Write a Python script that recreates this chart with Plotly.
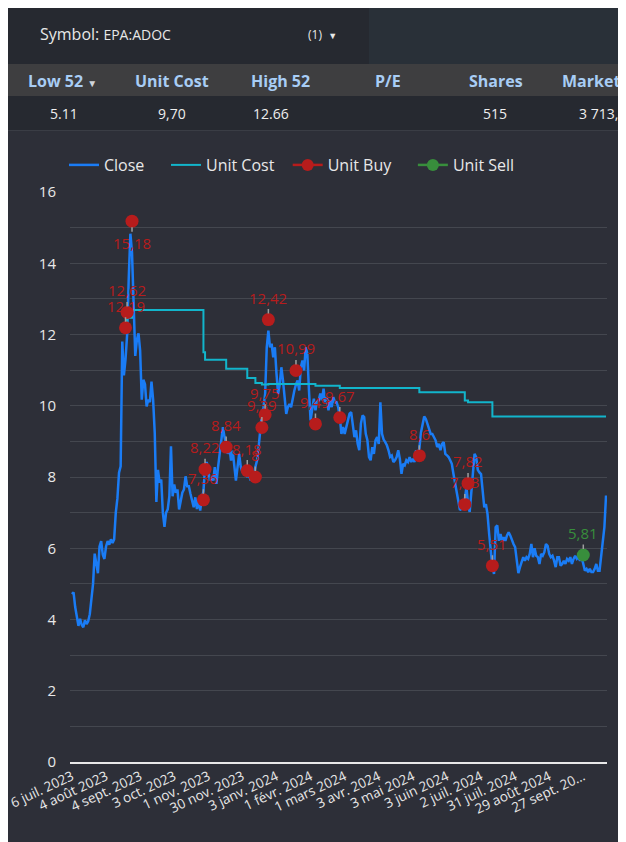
import plotly.graph_objects as go
import pandas as pd

# Euronext Paris closing days in the period
holidays = ['2023-12-25', '2023-12-26', '2024-01-01', '2024-03-29', '2024-04-01', '2024-05-01']
days = pd.bdate_range('2023-07-06', periods=330, freq='C', holidays=holidays)
dates = days.strftime('%Y-%m-%d').tolist()

close = [
    4.71, 4.76, 4.35, 4.05, 3.82, 4.02, 3.85, 3.78, 3.98, 3.87,
    3.95, 4.15, 4.55, 5.0, 5.85, 5.55, 5.3, 6.05, 6.2, 5.82,
    5.7, 6.05, 6.2, 6.1, 6.25, 6.15, 6.25, 7.0, 7.4, 8.12,
    8.3, 11.8, 10.85, 11.3, 12.0, 13.6, 14.83, 14.3, 12.9, 11.4,
    11.85, 12.03, 11.55, 10.17, 10.73, 10.6, 9.98, 10.17, 10.1, 10.68,
    10.17, 9.24, 7.3, 8.2, 7.84, 7.93, 7.0, 6.6, 7.0, 7.09,
    7.46, 8.86, 7.46, 7.79, 7.56, 7.65, 7.09, 7.37, 7.56, 7.65,
    8.02, 7.74, 7.74, 7.53, 7.3, 7.15, 7.43, 7.1, 7.34, 7.06,
    7.4, 7.6, 8.28, 8.42, 8.18, 7.9, 8.0, 7.9, 8.28, 7.81,
    8.28, 8.65, 9.02, 9.4, 9.12, 8.84, 8.65, 8.84, 8.46, 8.74,
    8.28, 7.9, 8.28, 8.65, 8.28, 8.14, 8.28, 8.14, 8.0, 8.09,
    7.9, 8.09, 8.0, 8.28, 8.46, 8.84, 9.4, 9.77, 9.96, 10.33,
    11.64, 12.11, 11.64, 11.74, 11.36, 11.64, 10.9, 10.33, 10.6, 11.08,
    10.71, 10.24, 9.77, 9.96, 10.05, 9.96, 10.24, 10.43, 10.6, 10.71,
    10.43, 11.08, 11.27, 10.99, 11.64, 11.46, 10.43, 9.59, 9.9, 10.2,
    9.87, 10.1, 10.15, 10.34, 10.15, 10.48, 10.1, 10.24, 9.87, 10.15,
    9.96, 10.24, 10.1, 10.1, 9.96, 9.68, 9.21, 9.4, 9.21, 9.4,
    9.68, 9.78, 9.82, 9.4, 9.12, 9.31, 8.93, 8.75, 9.5, 9.73,
    9.68, 9.21, 9.03, 8.56, 8.47, 8.84, 8.65, 9.03, 9.12, 8.93,
    10.1, 9.21, 9.05, 8.98, 8.89, 8.75, 8.56, 8.6, 8.42, 8.47,
    8.56, 8.75, 8.51, 8.09, 8.37, 8.33, 8.47, 8.42, 8.56, 8.42,
    8.51, 8.42, 8.75, 8.6, 8.8, 9.25, 9.45, 9.7, 9.63, 9.5,
    9.31, 9.21, 9.21, 9.12, 9.03, 8.84, 8.93, 8.75, 8.93, 8.98,
    8.65, 8.61, 8.56, 8.47, 8.37, 8.09, 7.81, 7.53, 7.25, 7.07,
    7.11, 7.21, 7.35, 7.72, 7.25, 7.02, 7.65, 8.3, 8.65, 8.56,
    8.2, 8.13, 8.08, 7.62, 7.15, 7.24, 6.96, 6.4, 5.84, 5.47,
    5.28, 6.59, 6.64, 6.21, 6.4, 6.21, 6.31, 6.21, 6.36, 6.45,
    6.36, 6.21, 6.12, 6.03, 5.65, 5.3, 5.47, 5.61, 5.75, 5.65,
    5.75, 5.7, 5.84, 6.12, 5.75, 6.0, 5.79, 5.75, 5.56, 5.84,
    5.79, 5.89, 6.12, 6.07, 5.84, 5.75, 5.79, 5.65, 5.47, 5.75,
    5.75, 5.51, 5.56, 5.65, 5.56, 5.7, 5.65, 5.75, 5.56, 5.7,
    5.79, 5.7, 5.75, 5.65, 5.75, 5.56, 5.37, 5.42, 5.33, 5.42,
    5.33, 5.33, 5.42, 5.56, 5.37, 5.37, 5.75, 6.21, 6.59, 7.48,
]

# unit cost only changes on buy days (step line)
cost_dates = ['2023-08-22', '2023-08-23', '2023-08-28', '2023-10-27', '2023-10-30',
              '2023-11-16', '2023-12-05', '2023-12-12', '2023-12-18', '2023-12-22',
              '2024-02-06', '2024-02-27', '2024-05-09', '2024-06-18', '2024-06-20',
              '2024-07-11', '2024-10-17']
cost_values = [12.19, 12.47, 12.69, 11.5, 11.29,
               11.04, 10.78, 10.64, 10.6, 10.61,
               10.56, 10.5, 10.38, 10.15, 10.1,
               9.70, 9.70]

buy_dates = ['2023-08-22', '2023-08-23', '2023-08-28', '2023-10-27', '2023-10-30',
             '2023-11-16', '2023-12-05', '2023-12-12', '2023-12-18', '2023-12-20',
             '2023-12-22', '2024-01-19', '2024-02-06', '2024-02-27', '2024-05-09',
             '2024-06-18', '2024-06-20', '2024-07-11']
buy_prices = [12.19, 12.62, 15.18, 7.36, 8.22,
              8.84, 8.18, 8, 9.39, 9.75,
              12.42, 10.99, 9.49, 9.67, 8.6,
              7.23, 7.82, 5.51]

sell_dates = ['2024-09-27']
sell_prices = [5.81]

tick_labels = ['6 juil. 2023', '4 août 2023', '4 sept. 2023', '3 oct. 2023', '1 nov. 2023',
               '30 nov. 2023', '3 janv. 2024', '1 févr. 2024', '1 mars 2024', '3 avr. 2024',
               '3 mai 2024', '3 juin 2024', '2 juil. 2024', '31 juil. 2024', '29 août 2024',
               '27 sept. 20…']

header_labels = ['Low 52', 'Unit Cost', 'High 52', 'P/E', 'Shares', 'Market Value']
header_values = ['5.11', '9,70', '12.66', '', '515', '3 713,15']

FONT = 'Open Sans'
BG = '#2d2f38'
PANEL = '#262930'
BLUE = '#1a7cf5'
TEAL = '#12b5cb'
RED = '#b71c1c'
GREEN = '#388e3c'
NB = '\u00a0'  # pads legend entries

# figure is 618x834, the page body adds an 8px margin
W, H = 618, 834
ML, MR, MT, MB = 62, 19, 184, 80


def paper(x, y):
    # page pixel -> paper coordinates
    return (x - 8 - ML) / (W - ML - MR), (H - MB - (y - 8)) / (H - MT - MB)


def fmt(v):
    return f'{v:g}'.replace('.', ',')


fig = go.Figure()

fig.add_trace(go.Scatter(x=dates, y=close, name='Close' + NB * 4, mode='lines',
                         line=dict(color=BLUE, width=2.5)))
fig.add_trace(go.Scatter(x=cost_dates, y=cost_values, name='Unit Cost' + NB * 2, mode='lines',
                         line=dict(color=TEAL, width=2, shape='hv')))

# legend entries with line + dot icons
fig.add_trace(go.Scatter(x=[None], y=[None], name='Unit Buy' + NB * 4, mode='lines+markers',
                         line=dict(color=RED, width=2.5), marker=dict(color=RED, size=12),
                         legendgroup='buy'))
fig.add_trace(go.Scatter(x=[None], y=[None], name='Unit Sell', mode='lines+markers',
                         line=dict(color=GREEN, width=2.5), marker=dict(color=GREEN, size=12),
                         legendgroup='sell'))
fig.add_trace(go.Scatter(x=buy_dates, y=buy_prices, name='Unit Buy', mode='markers',
                         marker=dict(color=RED, size=13), legendgroup='buy', showlegend=False))
fig.add_trace(go.Scatter(x=sell_dates, y=sell_prices, name='Unit Sell', mode='markers',
                         marker=dict(color=GREEN, size=13), legendgroup='sell', showlegend=False))

# data labels with small leader lines
for d, v in zip(buy_dates, buy_prices):
    fig.add_annotation(x=d, y=v, text=fmt(v), showarrow=True, arrowhead=0, arrowwidth=1.5,
                       arrowcolor='#9e9e9e', ax=0, ay=22 if v > 15 else -22, standoff=6,
                       font=dict(family=FONT, size=15, color=RED))
for d, v in zip(sell_dates, sell_prices):
    fig.add_annotation(x=d, y=v, text=fmt(v), showarrow=True, arrowhead=0, arrowwidth=1.5,
                       arrowcolor='#9e9e9e', ax=0, ay=-22, standoff=6,
                       font=dict(family=FONT, size=15, color=GREEN))

# dashboard header panels
shapes = []
def rect(x0, y0, x1, y1, color):
    a, b = paper(x0, y0)
    c, d = paper(x1, y1)
    shapes.append(dict(type='rect', xref='paper', yref='paper', x0=a, y0=b, x1=c, y1=d,
                       fillcolor=color, line=dict(width=0), layer='below'))

rect(8, 8, 369, 64, PANEL)
rect(369, 8, 630, 64, '#293038')
rect(8, 64, 630, 96, '#3e3e40')
rect(8, 96, 630, 130, PANEL)
rect(8, 130, 630, 131, '#3a3d45')

x, y = paper(38, 34)
fig.add_annotation(xref='paper', yref='paper', x=x, y=y, xanchor='left', yanchor='middle',
                   showarrow=False,
                   text="Symbol: <span style='font-size:14px'>EPA:ADOC</span>",
                   font=dict(family=FONT, size=16, color='#e8e8e8'))
x, y = paper(306, 34)
fig.add_annotation(xref='paper', yref='paper', x=x, y=y, xanchor='left', yanchor='middle',
                   showarrow=False,
                   text="(1)  <span style='font-size:9px'>▼</span>",
                   font=dict(family=FONT, size=12, color='#e8e8e8'))

head_x = [62, 172, 280, 388, 496, 560]
val_x = [64, 172, 271, 388, 495, 577]
for i, (lab, val) in enumerate(zip(header_labels, header_values)):
    if i == 0:
        lab = lab + " <span style='font-size:10px;color:#d0d4da'>▼</span>"
    anchor = 'left' if i == 5 else 'center'
    x, y = paper(head_x[i], 81)
    fig.add_annotation(xref='paper', yref='paper', x=x, y=y, xanchor=anchor, yanchor='middle',
                       showarrow=False, text='<b>' + lab + '</b>',
                       font=dict(family=FONT, size=16, color='#a8cdf5'))
    x, y = paper(val_x[i], 113)
    fig.add_annotation(xref='paper', yref='paper', x=x, y=y, xanchor=anchor, yanchor='middle',
                       showarrow=False, text=val,
                       font=dict(family=FONT, size=14, color='#eeeeee'))

lx, ly = paper(64, 165)
fig.update_layout(
    width=W, height=H,
    margin=dict(l=ML, r=MR, t=MT, b=MB),
    paper_bgcolor=BG, plot_bgcolor=BG,
    font=dict(family=FONT, color='#e8e8e8'),
    shapes=shapes,
    showlegend=True,
    legend=dict(orientation='h', x=lx, y=ly, xanchor='left', yanchor='middle',
                font=dict(size=16, color='#e8e8e8'), bgcolor='rgba(0,0,0,0)'),
    xaxis=dict(type='category', range=[-1.2, 329.6], showgrid=False, automargin=False,
               tickmode='array', tickvals=dates[::21], ticktext=tick_labels,
               tickangle=-25, tickfont=dict(size=13.5, color='#e8e8e8'),
               showline=True, linecolor='#e8e8e8', linewidth=1.5, ticks=''),
    yaxis=dict(range=[0, 16], tickvals=list(range(0, 17, 2)), automargin=False,
               gridcolor='#44474f', gridwidth=1, zeroline=False,
               minor=dict(dtick=1, showgrid=True, gridcolor='#44474f'),
               tickfont=dict(size=15, color='#e8e8e8'),
               ticks='outside', ticklen=10, tickcolor='rgba(0,0,0,0)'),
    hovermode='x',
)

fig.write_html('out.html')
